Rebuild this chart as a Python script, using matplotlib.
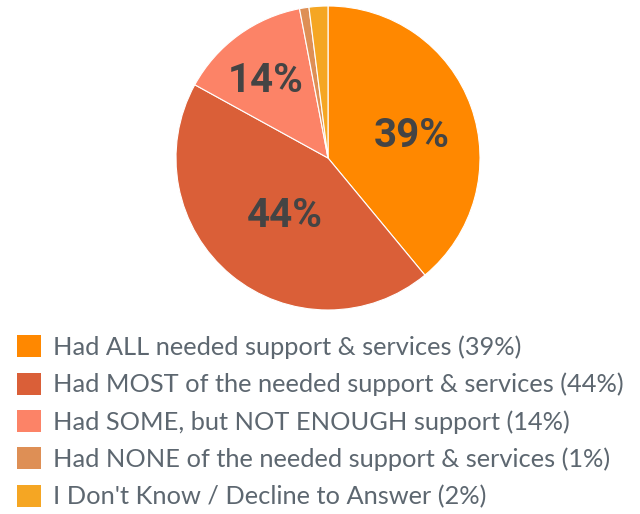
import matplotlib
matplotlib.use("Agg")
import matplotlib.pyplot as plt
from matplotlib.patches import Patch

labels = [
    "Had ALL needed support & services",
    "Had MOST of the needed support & services",
    "Had SOME, but NOT ENOUGH support",
    "Had NONE of the needed support & services",
    "I Don't Know / Decline to Answer",
]
values = [39, 44, 14, 1, 2]
colors = ["#FF8800", "#DA5F38", "#FC8367", "#DE8F55", "#F5A623"]
show_pct = [True, True, True, False, False]

fig = plt.figure(figsize=(6.4, 5.14), dpi=100)
W, H = 640, 514
cx, cy, r = 328, 158, 152
ax = fig.add_axes([(cx - r) / W, 1 - (cy + r) / H, 2 * r / W, 2 * r / H])

wedges, _ = ax.pie(values, colors=colors, startangle=90, counterclock=False,
                   wedgeprops=dict(edgecolor="white", linewidth=0.8))
ax.set_aspect("equal")
ax.set_xlim(-1, 1)
ax.set_ylim(-1, 1)
ax.axis("off")

# percentage labels on the big slices
label_pos = [(412, 136), (285, 216), (266, 81)]
k = 0
for v, s in zip(values, show_pct):
    if s:
        x, y = label_pos[k]
        fig.text(x / W, 1 - y / H, f"{v}%", ha="center", va="center",
                 fontsize=29, fontweight="bold", fontstretch="condensed",
                 family="Roboto", color="#444444")
        k += 1

handles = [Patch(facecolor=c, edgecolor="none") for c in colors]
texts = [f"{l} ({v}%)" for l, v in zip(labels, values)]
fig.legend(handles, texts, loc="upper left", bbox_to_anchor=(7 / W, 1 - 325 / H),
           frameon=False, prop=dict(family="Lato", size=18.3),
           labelcolor="#5d6770", handlelength=0.95, handleheight=0.95,
           handletextpad=0.45, labelspacing=0.54, borderaxespad=0)

fig.savefig("out.png", dpi=100)
